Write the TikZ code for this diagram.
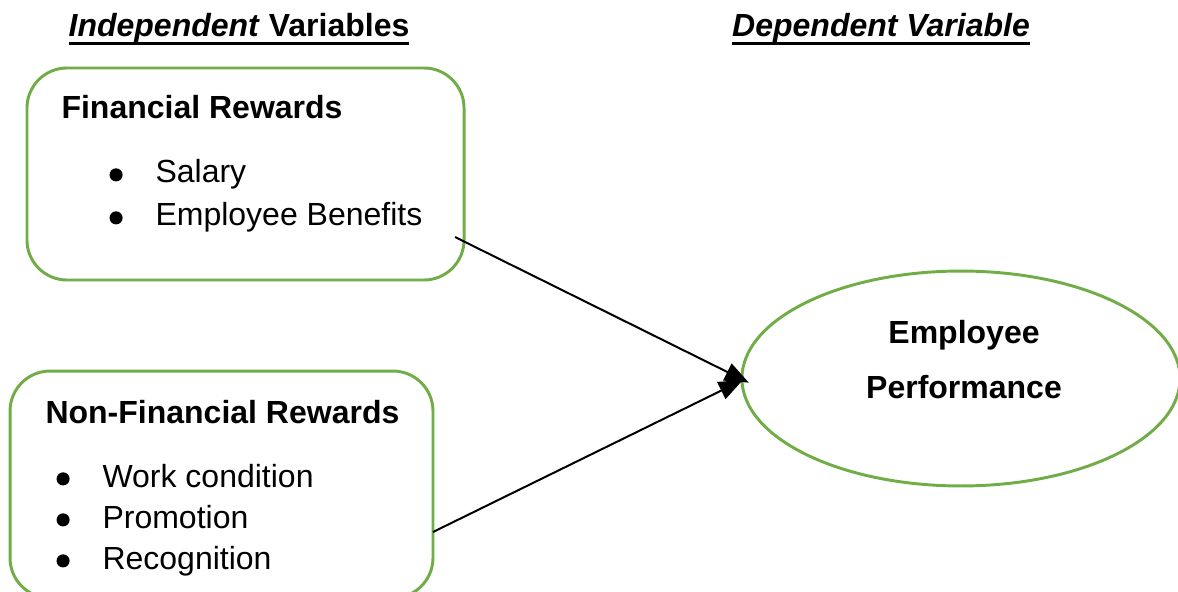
\documentclass[tikz,border=0pt]{standalone}
\usepackage{fontspec}
\setmainfont{Liberation Sans}
\usetikzlibrary{shapes.geometric,arrows.meta,positioning}
\definecolor{rewardgreen}{RGB}{112,173,71}
\newcommand{\framecolor}[0]{rewardgreen}
\newcommand{\listbullet}[0]{\makebox[17.25pt][l]{\raisebox{0.6pt}{\tikz\fill (0,0) circle (2.45pt);}}}
\newcommand{\headrule}[1]{\leavevmode\setbox0\hbox{#1}\rlap{\rule[-2.95pt]{\wd0}{1.1pt}}\box0}

\begin{document}
\begin{tikzpicture}[x=0.375pt, y=-0.375pt, inner sep=0pt,
    font=\fontsize{12}{14}\selectfont]
    \useasboundingbox (0,0) rectangle (1178,592);

    % column headings
    \node[anchor=base] (indep) at (239,37) {\headrule{\textbf{\textit{Independent} Variables}}};
    \node[anchor=base] (dep) at (881,37) {\headrule{\textbf{\textit{Dependent Variable}}}};

    % the two reward boxes and the outcome
    \node[rectangle, draw=\framecolor, line width=1.1pt, rounded corners=15pt,
        minimum width=163.9pt, minimum height=79.5pt]
        (fin) at (245.5,174) {};
    \node[rectangle, draw=\framecolor, line width=1.1pt, rounded corners=15pt,
        minimum width=158.6pt, minimum height=85.1pt]
        (nonfin) at (221.5,484.5) {};
    \node[ellipse, draw=\framecolor, line width=1.1pt,
        minimum width=164.3pt, minimum height=80.6pt]
        (perf) at (961,378.5) {};

    % box contents
    \node[anchor=base west, font=\fontsize{12}{14}\selectfont\bfseries] (fin-title) at (61,119) {Financial Rewards};
    \node[anchor=base west] (salary) at (109,183) {\listbullet Salary};
    \node[anchor=base west] (benefits) at (109,226) {\listbullet Employee Benefits};

    \node[anchor=base west, font=\fontsize{12}{14}\selectfont\bfseries] (nonfin-title) at (45,423) {Non-Financial Rewards};
    \node[anchor=base west] (workcond) at (56,487) {\listbullet Work condition};
    \node[anchor=base west] (promotion) at (56,528) {\listbullet Promotion};
    \node[anchor=base west] (recognition) at (56,569) {\listbullet Recognition};

    \node[anchor=base, font=\fontsize{12}{14}\selectfont\bfseries] (perf-top) at (964,343) {Employee};
    \node[anchor=base, font=\fontsize{12}{14}\selectfont\bfseries] (perf-bottom) at (964,398) {Performance};

    % arrows into the outcome
    \coordinate (fin-out) at (455,237);
    \coordinate (nonfin-out) at (433,532);
    \draw[line width=0.75pt, shorten >=-3.5pt, -{Triangle[length=9pt, width=7pt]}] (fin-out) -- (perf.west);
    \draw[line width=0.75pt, shorten >=-1pt, -{Triangle[length=9pt, width=7pt]}] (nonfin-out) -- ([yshift=-1pt]perf.west);
\end{tikzpicture}
\end{document}
